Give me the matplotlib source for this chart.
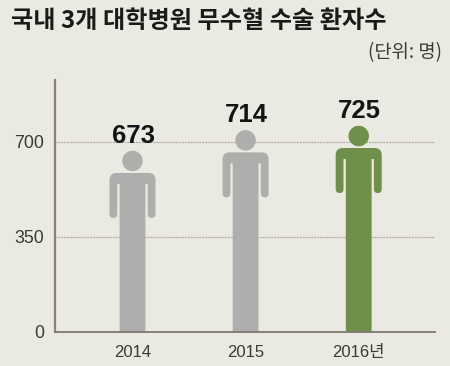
import matplotlib
matplotlib.use("Agg")
import matplotlib.pyplot as plt
from matplotlib.patches import Ellipse, PathPatch
from matplotlib.path import Path

W, H = 450, 366
years = ["2014", "2015", "2016년"]
values = [673, 714, 725]          # printed numbers
figure_tops = [667, 743, 759]     # head tops as drawn, read against the y axis
colors = ["#b0aeac", "#b0aeac", "#6f8f4b"]
yticks = [0, 350, 700]
bg = "#eae9e2"

fig = plt.figure(figsize=(W / 100, H / 100), dpi=100, facecolor=bg)
L, R, T, B = 55, 435, 80, 331.5
ax = fig.add_axes([L / W, 1 - B / H, (R - L) / W, (B - T) / H], facecolor=bg)
PX_Y = (B - 142) / 700
PX_X = 113.1
ax.set_ylim(0, (B - T) / PX_Y)
ax.set_xlim((L - 132.5) / PX_X, (R - 132.5) / PX_X)


def person(x, top, color):
    sx = lambda p: x + p / PX_X
    sy = lambda p: top - p / PX_Y   # p = pixels below head top
    ax.add_patch(Ellipse((x, sy(10)), 20.5 / PX_X, 20.5 / PX_Y, fc=color, ec="none", zorder=3))
    hw, bw, iw = 23, 12.9, 15.2
    half = [
        (Path.MOVETO, (0, 22)),
        (Path.LINETO, (hw - 7, 22)),
        (Path.CURVE3, (hw, 22)),
        (Path.CURVE3, (hw, 29)),
        (Path.LINETO, (hw, 63)),
        (Path.CURVE3, (hw, 67)),
        (Path.CURVE3, ((hw + iw) / 2, 67)),
        (Path.CURVE3, (iw, 67)),
        (Path.CURVE3, (iw, 63)),
        (Path.LINETO, (iw, 33)),
        (Path.LINETO, (bw, 33)),
    ]
    codes, pts = [], []
    for c, (a, b) in half:
        codes.append(c)
        pts.append((sx(a), sy(b)))
    codes.append(Path.LINETO); pts.append((sx(bw), 0))
    codes.append(Path.LINETO); pts.append((sx(-bw), 0))
    codes.append(Path.LINETO); pts.append((sx(-bw), sy(33)))
    mirror = half[::-1]
    rev_codes = [Path.LINETO, Path.LINETO, Path.CURVE3, Path.CURVE3, Path.CURVE3, Path.CURVE3,
                 Path.LINETO, Path.CURVE3, Path.CURVE3, Path.LINETO]
    for c, (_, (a, b)) in zip(rev_codes, mirror[1:]):
        codes.append(c)
        pts.append((sx(-a), sy(b)))
    codes.append(Path.CLOSEPOLY); pts.append(pts[0])
    ax.add_patch(PathPatch(Path(pts, codes), fc=color, ec="none", zorder=3))


for i, (v, t, c) in enumerate(zip(values, figure_tops, colors)):
    person(i, t, c)
    ax.text(i + 0.005, t + 8 / PX_Y, str(v), ha="center", va="baseline",
            family="Liberation Sans", fontweight="bold",
            fontsize=18.5, color="#141414", zorder=4)

for y in yticks[1:]:
    ax.axhline(y, color="#b0aea5", lw=0.9, ls=(0, (1.6, 0.7)), zorder=1)

for s in ("top", "right"):
    ax.spines[s].set_visible(False)
ax.spines["left"].set_color("#85837b")
ax.spines["left"].set_linewidth(1.6)
ax.spines["bottom"].set_color("#7a776e")
ax.spines["bottom"].set_linewidth(1.3)
ax.spines["bottom"].set_zorder(5)

ax.set_yticks(yticks)
ax.set_yticklabels([str(y) for y in yticks], family="Liberation Sans", fontsize=12.8, color="#3c3a36")
ax.set_xticks(range(3))
ax.set_xticklabels(years, family=["Liberation Sans", "Noto Sans CJK KR"], fontsize=12, color="#3c3a36")
ax.tick_params(axis="y", length=0, pad=8)
ax.tick_params(axis="x", length=0, pad=10)

fig.text(11 / W, 1 - 20.5 / H, "국내 3개 대학병원 무수혈 수술 환자수", family="Noto Sans CJK KR",
         fontweight="bold", fontsize=17.4, color="#1b1a18", ha="left", va="center")
fig.text(442 / W, 1 - 53 / H, "(단위: 명)", family="Noto Sans CJK KR", fontsize=13.5,
         color="#3c3a36", ha="right", va="center")

fig.savefig("out.png", dpi=100, facecolor=bg)
